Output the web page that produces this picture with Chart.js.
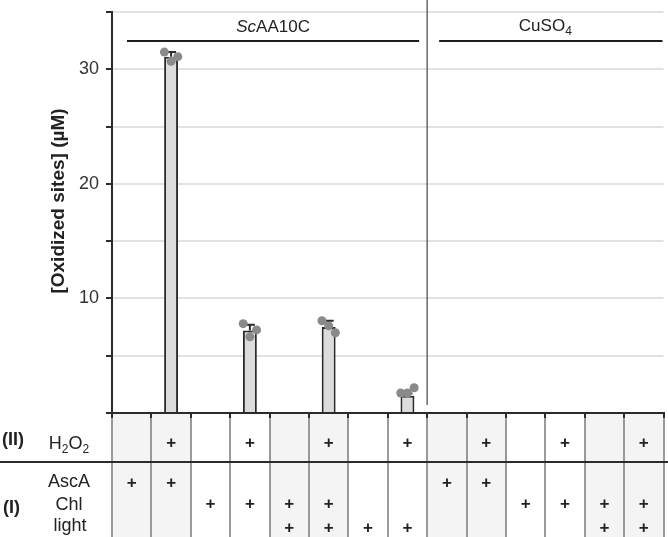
<!DOCTYPE html>
<html><head><meta charset="utf-8">
<script src="https://cdn.jsdelivr.net/npm/chart.js@4.4.1/dist/chart.umd.min.js"></script>
<style>html,body{margin:0;padding:0;background:#fff}#wrap{width:668px;height:537px;position:relative}</style>
</head><body><div id="wrap"><canvas id="c" width="668" height="537"></canvas></div>
<script>
// ---- data ----
const categories = ['AscA','AscA + H2O2','Chl','Chl + H2O2','Chl + light','Chl + light + H2O2','light','light + H2O2',
                    'AscA','AscA + H2O2','Chl','Chl + H2O2','Chl + light','Chl + light + H2O2'];
const meanValues = [0, 31.1, 0, 7.2, 0, 7.5, 0, 1.5, 0, 0, 0, 0, 0, 0];
const errValues  = [0, 0.4, 0, 0.5, 0, 0.55, 0, 0.2, 0, 0, 0, 0, 0, 0];
const rep1 = [null, 31.5, null, 7.8,  null, 8.05, null, 1.75, null, null, null, null, null, null];
const rep2 = [null, 30.7, null, 6.65, null, 7.6,  null, 1.75, null, null, null, null, null, null];
const rep3 = [null, 31.1, null, 7.25, null, 7.0,  null, 2.2,  null, null, null, null, null, null];
const yTickLabels = [10, 20, 30];
const h2o2Row  = [0,1,0,1,0,1,0,1, 0,1,0,1,0,1];
const ascaRow  = [1,1,0,0,0,0,0,0, 1,1,0,0,0,0];
const chlRow   = [0,0,1,1,1,1,0,0, 0,0,1,1,1,1];
const lightRow = [0,0,0,0,1,1,1,1, 0,0,0,0,1,1];
const shadedCols = [1,1,0,0,1,1,0,0, 1,1,0,0,1,1];
const groupStart = [0, 8];
const groupEnd   = [7, 13];

// ---- styling ----
const FONT = "'Liberation Sans', Arial, Helvetica, sans-serif";
const INK = '#2b2b2b';
const jitter = [-0.17, 0, 0.17];

function richWidth(ctx, parts, size) {
  let w = 0;
  parts.forEach(p => { ctx.font = (p.italic ? 'italic ' : '') + (p.sub ? Math.round(size*0.68) : size) + 'px ' + FONT; w += ctx.measureText(p.t).width; });
  return w;
}
function drawRich(ctx, parts, cx, y, size) {
  let x = cx - richWidth(ctx, parts, size) / 2;
  ctx.textAlign = 'left'; ctx.textBaseline = 'alphabetic';
  parts.forEach(p => {
    const s = p.sub ? Math.round(size*0.68) : size;
    ctx.font = (p.italic ? 'italic ' : '') + s + 'px ' + FONT;
    ctx.fillText(p.t, x, p.sub ? y + size*0.22 : y);
    x += ctx.measureText(p.t).width;
  });
}

const tablePlugin = {
  id: 'tablePlugin',
  beforeDraw(chart) {
    const ctx = chart.ctx, xs = chart.scales.x;
    const half = (xs.getPixelForValue(1) - xs.getPixelForValue(0)) / 2;
    const top = chart.chartArea.bottom, bottom = chart.height;
    ctx.save();
    ctx.fillStyle = '#fff';
    ctx.fillRect(0, 0, chart.width, chart.height);
    shadedCols.forEach((s, i) => {
      if (!s) return;
      const cx = xs.getPixelForValue(i);
      ctx.fillStyle = '#f4f4f4';
      ctx.fillRect(cx - half, top, half * 2, bottom - top);
    });
    // column separators
    ctx.strokeStyle = '#7a7a7a'; ctx.lineWidth = 1.5;
    for (let i = 0; i <= categories.length; i++) {
      const bx = Math.round(xs.getPixelForValue(0) - half + i * half * 2);
      ctx.beginPath(); ctx.moveTo(bx, top); ctx.lineTo(bx, bottom); ctx.stroke();
    }
    // row divider
    ctx.strokeStyle = INK; ctx.lineWidth = 2;
    ctx.beginPath(); ctx.moveTo(0, 462); ctx.lineTo(chart.width, 462); ctx.stroke();
    ctx.restore();
  },
  beforeDatasetsDraw(chart) {
    const ctx = chart.ctx, xs = chart.scales.x;
    const bx = (xs.getPixelForValue(groupEnd[0]) + xs.getPixelForValue(groupStart[1])) / 2;
    ctx.save();
    ctx.strokeStyle = '#444'; ctx.lineWidth = 1.2;
    ctx.beginPath(); ctx.moveTo(bx, 0); ctx.lineTo(bx, 405); ctx.stroke();
    ctx.restore();
  },
  afterDatasetDraw(chart, args) {
    if (args.index !== 0) return;
    const ctx = chart.ctx, xs = chart.scales.x, ys = chart.scales.y;
    ctx.save();
    ctx.strokeStyle = INK; ctx.lineWidth = 2;
    meanValues.forEach((m, i) => {
      if (!errValues[i]) return;
      const x = xs.getPixelForValue(i);
      const y0 = ys.getPixelForValue(m), y1 = ys.getPixelForValue(m + errValues[i]);
      ctx.beginPath(); ctx.moveTo(x, y0); ctx.lineTo(x, y1);
      ctx.moveTo(x - 5, y1); ctx.lineTo(x + 5, y1); ctx.stroke();
    });
    ctx.restore();
  },
  afterDraw(chart) {
    const ctx = chart.ctx, xs = chart.scales.x;
    const half = (xs.getPixelForValue(1) - xs.getPixelForValue(0)) / 2;
    ctx.save();
    ctx.fillStyle = '#222';
    // y title
    ctx.save();
    ctx.translate(59, 201); ctx.rotate(-Math.PI / 2);
    ctx.font = 'bold 19px ' + FONT; ctx.textAlign = 'center'; ctx.textBaseline = 'middle';
    ctx.fillText('[Oxidized sites] (\u00b5M)', 0, 0);
    ctx.restore();
    // group headers
    ctx.strokeStyle = '#1e1e1e'; ctx.lineWidth = 2;
    const g0l = xs.getPixelForValue(groupStart[0]) - half + 15, g0r = xs.getPixelForValue(groupEnd[0]) + half - 8;
    const g1l = xs.getPixelForValue(groupStart[1]) - half + 12, g1r = xs.getPixelForValue(groupEnd[1]) + half - 1;
    ctx.beginPath(); ctx.moveTo(g0l, 41); ctx.lineTo(g0r, 41); ctx.moveTo(g1l, 41); ctx.lineTo(g1r, 41); ctx.stroke();
    drawRich(ctx, [{t:'Sc', italic:true}, {t:'AA10C'}], (g0l + g0r) / 2, 32, 17);
    drawRich(ctx, [{t:'CuSO'}, {t:'4', sub:true}], (xs.getPixelForValue(groupStart[1]) + xs.getPixelForValue(groupEnd[1])) / 2, 31, 17);
    // row labels
    ctx.font = 'bold 18px ' + FONT; ctx.textAlign = 'left'; ctx.textBaseline = 'alphabetic';
    ctx.fillText('(II)', 2, 445);
    ctx.fillText('(I)', 3, 513);
    drawRich(ctx, [{t:'H'}, {t:'2', sub:true}, {t:'O'}, {t:'2', sub:true}], 69, 449, 18);
    drawRich(ctx, [{t:'AscA'}], 69, 487, 18);
    drawRich(ctx, [{t:'Chl'}], 69, 510, 18);
    drawRich(ctx, [{t:'light'}], 70, 531, 18);
    // plus signs
    ctx.font = 'bold 17px ' + FONT; ctx.textAlign = 'center'; ctx.textBaseline = 'alphabetic';
    const m = ctx.measureText('+');
    const off = (m.actualBoundingBoxAscent - m.actualBoundingBoxDescent) / 2;
    const rows = [[h2o2Row, 442], [ascaRow, 482], [chlRow, 503], [lightRow, 527]];
    rows.forEach(([row, cy]) => row.forEach((v, i) => {
      if (v) ctx.fillText('+', xs.getPixelForValue(i), cy + off);
    }));
    ctx.restore();
  }
};

const pointSets = [rep1, rep2, rep3].map((r, k) => ({
  type: 'scatter',
  data: r.map((v, i) => v == null ? null : {x: i + jitter[k], y: v}).filter(Boolean),
  xAxisID: 'xp', yAxisID: 'y',
  pointRadius: 4.5, pointHoverRadius: 4.5,
  backgroundColor: '#8a8a8a', borderColor: '#8a8a8a', borderWidth: 0,
  order: 1
}));

new Chart(document.getElementById('c'), {
  data: {
    labels: categories,
    datasets: [
      { type: 'bar', data: meanValues, xAxisID: 'x', yAxisID: 'y',
        backgroundColor: '#dcdcdc', borderColor: INK, borderWidth: 2,
        grouped: false, categoryPercentage: 1, barPercentage: 0.354, order: 3 },
      ...pointSets
    ]
  },
  options: {
    responsive: false, animation: false, devicePixelRatio: 1,
    layout: { padding: { left: 0, right: 1, top: 12, bottom: 124 } },
    plugins: { legend: { display: false }, tooltip: { enabled: false } },
    scales: {
      x: {
        type: 'category', offset: true,
        ticks: { display: false },
        grid: { display: true, drawOnChartArea: false, drawTicks: true, tickLength: 5, offset: true, color: INK, lineWidth: 2 },
        border: { display: true, color: INK, width: 2 },
        afterFit: s => { s.height = 0; }
      },
      xp: { type: 'linear', display: false, min: -0.5, max: categories.length - 0.5 },
      y: {
        min: 0, max: 35,
        ticks: { stepSize: 5, padding: 7, color: '#333', font: { family: FONT, size: 18 },
                 callback: v => yTickLabels.includes(v) ? String(v) : '' },
        grid: { color: '#e2e2e2', lineWidth: 2, tickColor: INK, tickLength: 6, tickWidth: 2 },
        border: { display: true, color: INK, width: 2 },
        afterFit: s => { s.width = 112; s.paddingTop = 0; s.paddingBottom = 0; }
      }
    }
  },
  plugins: [tablePlugin]
});
</script></body></html>
